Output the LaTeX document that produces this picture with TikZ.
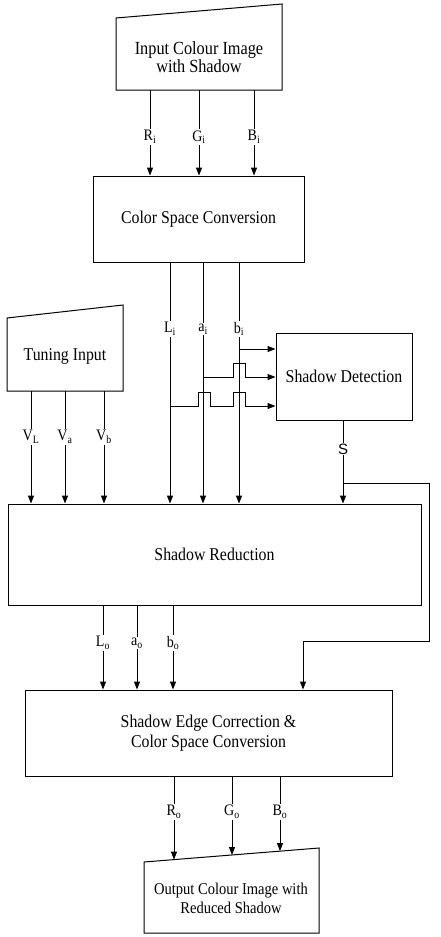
\documentclass[tikz,border=0pt]{standalone}
\usepackage{fontspec}
\setmainfont[FakeStretch=0.88]{Liberation Serif}
\newfontfamily\lblsans{Liberation Sans}
\usetikzlibrary{arrows.meta}
\begin{document}
\begin{tikzpicture}[x=1pt,y=-1pt,
  line width=1pt,
  arr/.style={-{Triangle[length=8pt,width=6pt]}},
  box/.style={draw,inner sep=0pt,align=center,font=\fontsize{18}{20}\selectfont},
  txt/.style={inner sep=0pt,align=center,font=\fontsize{18}{20}\selectfont},
  lbl/.style={fill=white,inner sep=1pt,font=\fontsize{16}{18}\selectfont}]
\useasboundingbox[fill=white] (0,0) rectangle (440,937);

% ---- input image (manual input shape)
\draw (116,90)--(116,18)--(282,4)--(282,90)--cycle;
\node[txt,font=\fontsize{18.5}{18.5}\selectfont] (inp) at (199,57) {Input Colour Image\\with Shadow};
\coordinate (Rin) at (150,90);
\coordinate (Gin) at (199,90);
\coordinate (Bin) at (254,90);

% ---- colour space conversion
\node[box,minimum width=211pt,minimum height=86pt] (csc) at (198.5,219) {Color Space Conversion};

\draw[arr] (Rin) -- (Rin |- csc.north);
\draw[arr] (Gin) -- (Gin |- csc.north);
\draw[arr] (Bin) -- (Bin |- csc.north);
\node[lbl] (lRi) at (150,137) {R\textsubscript{i}};
\node[lbl] (lGi) at (199,137) {G\textsubscript{i}};
\node[lbl] (lBi) at (254,137) {B\textsubscript{i}};

% ---- shadow detection
\node[box,minimum width=136pt,minimum height=87pt] (sd) at (344,376.5) {Shadow Detection};

% ---- tuning input
\draw (7,391)--(7,318)--(123,305)--(123,391)--cycle;
\node[txt] (tun) at (65,356) {Tuning Input};
\coordinate (VLs) at (31,391);
\coordinate (Vas) at (65,391);
\coordinate (Vbs) at (104,391);

% ---- shadow reduction
\node[box,minimum width=413pt,minimum height=101pt] (sr) at (214.5,554.5) {Shadow Reduction};

% ---- shadow edge correction
\node[box,minimum width=367pt,minimum height=86pt] (sec) at (208.5,733) {Shadow Edge Correction \&\\Color Space Conversion};

% ---- output image
\draw (144,933)--(144,862)--(319,848)--(319,933)--cycle;
\node[txt,font=\fontsize{16.5}{19}\selectfont] (out) at (231,898) {Output Colour Image with\\Reduced Shadow};

% helper x positions
\coordinate (Lx) at (170,0);
\coordinate (ax) at (203,0);
\coordinate (bx) at (239,0);
\coordinate (Sx) at (343,0);
\coordinate (y1) at (0,349);
\coordinate (y2) at (0,377);
\coordinate (y3) at (0,406);

% L a b to shadow reduction
\draw[arr] (csc.south -| Lx) -- (sr.north -| Lx);
\draw[arr] (csc.south -| ax) -- (sr.north -| ax);
\draw[arr] (csc.south -| bx) -- (sr.north -| bx);
\node[lbl] (lLi) at (170,329) {L\textsubscript{i}};
\node[lbl] (lai) at (203,329) {a\textsubscript{i}};
\node[lbl] (lbi) at (239,329) {b\textsubscript{i}};

% branches to shadow detection
\draw[arr] (bx |- y1) -- (sd.west |- y1);
\draw[arr] (ax |- y2) -- ++(30,0) -- ++(0,-14) -- ++(12,0) -- ++(0,14) -- (sd.west |- y2);
\draw[arr] (Lx |- y3) -- ++(28,0) -- ++(0,-14) -- ++(12,0) -- ++(0,14) -- ++(23,0) -- ++(0,-14) -- ++(12,0) -- ++(0,14) -- (sd.west |- y3);

% tuning arrows
\draw[arr] (VLs) -- (VLs |- sr.north);
\draw[arr] (Vas) -- (Vas |- sr.north);
\draw[arr] (Vbs) -- (Vbs |- sr.north);
\node[lbl] (lVL) at (31,437) {V\textsubscript{L}};
\node[lbl] (lVa) at (65,437) {V\textsubscript{a}};
\node[lbl] (lVb) at (104,437) {V\textsubscript{b}};

% S output
\coordinate (br) at (343,483);
\coordinate (rt) at (429,641);
\coordinate (SEx) at (303,0);
\draw[arr] (sd.south -| Sx) -- (sr.north -| Sx);
\draw[arr] (br) -| (rt) -| (sec.north -| SEx);
\node[lbl,font=\lblsans\fontsize{15}{17}\selectfont] (lS) at (343,449) {S};

% Lo ao bo
\coordinate (Lox) at (103,0);
\coordinate (aox) at (137,0);
\coordinate (box) at (173,0);
\draw[arr] (sr.south -| Lox) -- (sec.north -| Lox);
\draw[arr] (sr.south -| aox) -- (sec.north -| aox);
\draw[arr] (sr.south -| box) -- (sec.north -| box);
\node[lbl] (lLo) at (103,643) {L\textsubscript{o}};
\node[lbl] (lao) at (137,643) {a\textsubscript{o}};
\node[lbl] (lbo) at (173,643) {b\textsubscript{o}};

% Ro Go Bo
\coordinate (RoE) at (174,859.6);
\coordinate (GoE) at (232,855);
\coordinate (BoE) at (280,851.1);
\draw[arr] (sec.south -| RoE) -- (RoE);
\draw[arr] (sec.south -| GoE) -- (GoE);
\draw[arr] (sec.south -| BoE) -- (BoE);
\node[lbl] (lRo) at (174,812) {R\textsubscript{o}};
\node[lbl] (lGo) at (232,812) {G\textsubscript{o}};
\node[lbl] (lBo) at (280,812) {B\textsubscript{o}};
\end{tikzpicture}
\end{document}
